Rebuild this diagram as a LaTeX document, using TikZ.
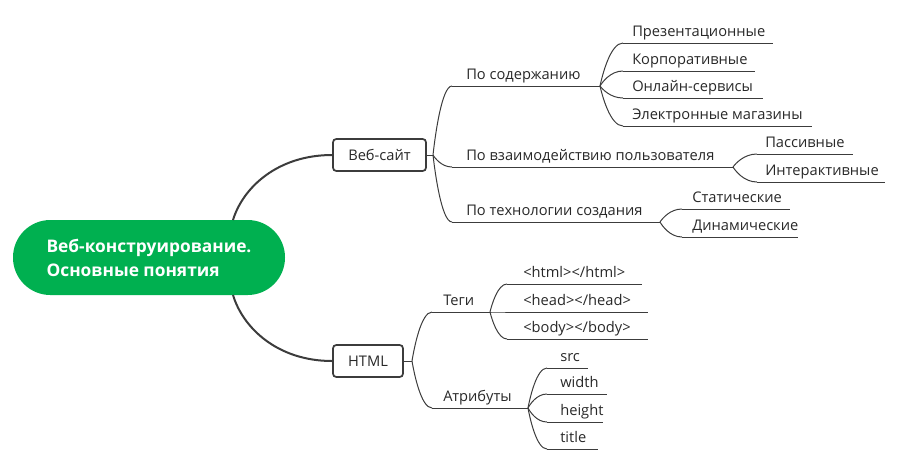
\documentclass[tikz,border=0pt]{standalone}
\usepackage{fontspec}
\setmainfont{Open Sans}
\usetikzlibrary{calc}
\definecolor{grn}{RGB}{0,176,80}
\definecolor{ln}{RGB}{60,60,60}
\definecolor{txt}{RGB}{40,40,40}
\newcommand\mmconn[2]{\draw[thinln] (#1) let \p1=(#1),\p2=(#2) in .. controls ({\x1+0.1*(\x2-\x1)},{\y1+0.25*(\y2-\y1)}) and ({\x1+0.45*(\x2-\x1)},{\y2}) .. (#2);}
\newcommand\mmmain[2]{\draw[thickln] (#1) let \p1=(#1),\p2=(#2) in .. controls ({\x1+0.1*(\x2-\x1)},{\y1+0.5*(\y2-\y1)}) and ({\x1+0.45*(\x2-\x1)},{\y2}) .. (#2);}
\begin{document}
\begin{tikzpicture}[x=0.75pt,y=-0.75pt,
  thinln/.style={draw=ln, line width=0.75pt},
  thickln/.style={draw=ln, line width=1.5pt},
  lbl/.style={anchor=base west, inner sep=0pt, text=txt, font=\fontsize{11}{13}\selectfont},
  topicbox/.style={draw=ln, line width=1.3pt, rounded corners=2.5pt, fill=white, text=txt,
     minimum height=24pt, inner sep=0pt, font=\fontsize{11}{13}\selectfont},
  rootbox/.style={fill=grn, rounded corners=28pt, minimum width=204pt, minimum height=56.25pt,
     text=white, align=left, inner sep=0pt, font=\fontsize{13}{18}\selectfont\bfseries}]
\useasboundingbox (0,0) rectangle (901,462);

% root
\node[rootbox] (root) at (149,257.5) {Веб-конструирование.\\Основные понятия};
\coordinate (rtop) at (233,220);
\coordinate (rbot) at (233,295);

% level 1
\node[topicbox, minimum width=69.75pt] (web) at (379.5,155) {Веб-сайт};
\node[topicbox, minimum width=52.5pt] (html) at (368,361) {HTML};
\mmmain{rtop}{web.west}
\mmmain{rbot}{html.west}

% branch points
\coordinate (wb) at (433,155);
\coordinate (hb) at (412,361);
\draw[thinln] (web.east) -- (wb);
\draw[thinln] (html.east) -- (hb);

% level 2 under Веб-сайт
\node[lbl] (s1) at (466,79) {По содержанию};
\coordinate (s1a) at (452,86); \coordinate (s1b) at (600,86);
\node[lbl] (s2) at (466,160) {По взаимодействию пользователя};
\coordinate (s2a) at (452,167); \coordinate (s2b) at (733,167);
\node[lbl] (s3) at (466,215) {По технологии создания};
\coordinate (s3a) at (452,222); \coordinate (s3b) at (660,222);
\mmconn{wb}{s1a} \draw[thinln] (s1a) -- (s1b);
\mmconn{wb}{s2a} \draw[thinln] (s2a) -- (s2b);
\mmconn{wb}{s3a} \draw[thinln] (s3a) -- (s3b);

% level 3: По содержанию
\node[lbl] (c1) at (632,36) {Презентационные};
\coordinate (c1a) at (623,43); \coordinate (c1b) at (773,43);
\node[lbl] (c2) at (632,64) {Корпоративные};
\coordinate (c2a) at (623,71); \coordinate (c2b) at (755,71);
\node[lbl] (c3) at (632,91) {Онлайн-сервисы};
\coordinate (c3a) at (623,98); \coordinate (c3b) at (763,98);
\node[lbl] (c4) at (632,119) {Электронные магазины};
\coordinate (c4a) at (623,126); \coordinate (c4b) at (812,126);
\foreach \i in {1,2,3,4}{\mmconn{s1b}{c\i a} \draw[thinln] (c\i a) -- (c\i b);}

% По взаимодействию
\node[lbl] (i1) at (765,147) {Пассивные};
\coordinate (i1a) at (757,154); \coordinate (i1b) at (853,154);
\node[lbl] (i2) at (765,175) {Интерактивные};
\coordinate (i2a) at (757,182); \coordinate (i2b) at (885,182);
\foreach \i in {1,2}{\mmconn{s2b}{i\i a} \draw[thinln] (i\i a) -- (i\i b);}

% По технологии
\node[lbl] (t1) at (692,202) {Статические};
\coordinate (t1a) at (682,209); \coordinate (t1b) at (790,209);
\node[lbl] (t2) at (692,230) {Динамические};
\coordinate (t2a) at (682,237); \coordinate (t2b) at (798,237);
\foreach \i in {1,2}{\mmconn{s3b}{t\i a} \draw[thinln] (t\i a) -- (t\i b);}

% level 2 under HTML
\node[lbl] (h1) at (443,305) {Теги};
\coordinate (h1a) at (432,312); \coordinate (h1b) at (490,312);
\node[lbl] (h2) at (443,401) {Атрибуты};
\coordinate (h2a) at (432,408); \coordinate (h2b) at (528,408);
\mmconn{hb}{h1a} \draw[thinln] (h1a) -- (h1b);
\mmconn{hb}{h2a} \draw[thinln] (h2a) -- (h2b);

% Теги children
\node[lbl] (g1) at (523,277) {<html></html>};
\coordinate (g1a) at (507,284); \coordinate (g1b) at (642,284);
\node[lbl] (g2) at (523,305) {<head></head>};
\coordinate (g2a) at (507,312); \coordinate (g2b) at (648,312);
\node[lbl] (g3) at (523,332) {<body></body>};
\coordinate (g3a) at (507,339); \coordinate (g3b) at (648,339);
\foreach \i in {1,2,3}{\mmconn{h1b}{g\i a} \draw[thinln] (g\i a) -- (g\i b);}

% Атрибуты children
\node[lbl] (a1) at (560,361) {src};
\coordinate (a1a) at (547,368); \coordinate (a1b) at (588,368);
\node[lbl] (a2) at (560,387) {width};
\coordinate (a2a) at (547,394); \coordinate (a2b) at (607,394);
\node[lbl] (a3) at (560,415) {height};
\coordinate (a3a) at (547,422); \coordinate (a3b) at (603,422);
\node[lbl] (a4) at (560,442) {title};
\coordinate (a4a) at (547,449); \coordinate (a4b) at (598,449);
\foreach \i in {1,2,3,4}{\mmconn{h2b}{a\i a} \draw[thinln] (a\i a) -- (a\i b);}
\end{tikzpicture}
\end{document}
